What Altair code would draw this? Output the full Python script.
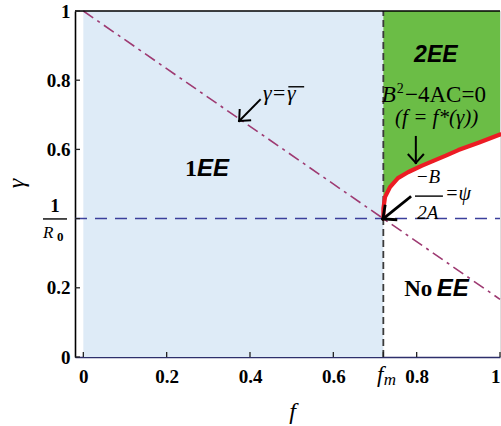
import math
import altair as alt
import pandas as pd

# ---- axis extents and plot size ----
F_MIN, F_MAX = -0.02, 1.0
G_MIN, G_MAX = 0.0, 1.0
W, H = 425, 346
PX_F = W / (F_MAX - F_MIN)   # pixels per unit of f
PX_G = H / (G_MAX - G_MIN)   # pixels per unit of gamma

# ---- key values ----
f_m = 0.72          # threshold f_m
inv_R0 = 0.4        # 1/R0

# gamma = gamma_bar line (dash-dot)
bar_f = [0.0, 1.0]
bar_g = [1.0, 0.1667]

# B^2 - 4AC = 0 boundary, f = f*(gamma)
curve_f = [0.72, 0.7203, 0.724, 0.736, 0.755, 0.779, 0.813, 0.84, 0.87, 0.90, 0.95, 1.0]
curve_g = [0.40, 0.43, 0.462, 0.491, 0.517, 0.534, 0.553, 0.567, 0.582, 0.598, 0.620, 0.643]

# axis ticks
x_ticks = [0.0, 0.2, 0.4, 0.6, 0.8, 1.0]
y_ticks = [0.0, 0.2, 0.4, 0.6, 0.8, 1.0]

# arrows: start -> tip
arrow_f0 = [0.424, 0.798, 0.784]
arrow_g0 = [0.743, 0.636, 0.462]
arrow_f1 = [0.374, 0.798, 0.719]
arrow_g1 = [0.682, 0.561, 0.399]

BLUE_FILL = "#deebf7"
GREEN = "#6bbd46"
RED = "#ec1c24"
PURPLE = "#9e3a72"
NAVY = "#3b3f9c"
SERIF = "Liberation Serif"
SANS = "Liberation Sans"

xs = alt.Scale(domain=[F_MIN, F_MAX], nice=False, zero=False)
ys = alt.Scale(domain=[G_MIN, G_MAX], nice=False, zero=False)

AX_X = alt.Axis(
    values=x_ticks, format=".1~f", ticks=False, grid=False,
    domainColor="#2d2f6b", domainWidth=1.6,
    labelFont=SERIF, labelFontWeight="bold", labelFontSize=19,
    labelColor="black", labelPadding=10, labelOverlap=False,
    title="f", titleFont=SERIF, titleFontStyle="italic",
    titleFontWeight="normal", titleFontSize=24, titleColor="black",
    titleX=217, titleY=61, titleBaseline="alphabetic")

AX_Y = alt.Axis(
    values=y_ticks, format=".1~f", ticks=False, grid=False,
    labelExpr="datum.value == 0.4 ? '' : datum.label",
    domainColor="black", domainWidth=1.6,
    labelFont=SERIF, labelFontWeight="bold", labelFontSize=19,
    labelColor="black", labelPadding=5, labelFlush=False,
    labelOverlap=False,
    title="γ", titleFont=SERIF, titleFontStyle="italic",
    titleFontWeight="normal", titleFontSize=24, titleColor="black",
    titleX=-59, titleY=172, titleAlign="center", titleBaseline="middle")


def X(field="f"):
    return alt.X(f"{field}:Q", scale=xs, axis=AX_X)


def Y(field="g"):
    return alt.Y(f"{field}:Q", scale=ys, axis=AX_Y)


# ---- 1EE region ----
blue_df = pd.DataFrame({"f": [0.0], "f2": [f_m], "g": [0.0], "g2": [1.0]})
blue = alt.Chart(blue_df).mark_rect(color=BLUE_FILL).encode(
    x=X(), x2="f2:Q", y=Y(), y2="g2:Q")

# ---- 2EE region: between f = f_m and the boundary curve, up to gamma = 1 ----
green_df = pd.DataFrame({"f": curve_f + [1.0], "g": curve_g + [1.0]})
green_df["f2"] = f_m
green = alt.Chart(green_df).mark_area(orient="horizontal", color=GREEN).encode(
    y=Y(), x=X(), x2="f2:Q")

curve_df = pd.DataFrame({"f": curve_f, "g": curve_g, "i": range(len(curve_f))})
curve = alt.Chart(curve_df).mark_line(color=RED, strokeWidth=4.2, strokeCap="round",
                                      strokeJoin="round").encode(
    x=X(), y=Y(), order="i:Q")

bar_df = pd.DataFrame({"f": bar_f, "g": bar_g})
bar_line = alt.Chart(bar_df).mark_line(color=PURPLE, strokeWidth=1.6,
                                       strokeDash=[12, 5, 3, 5]).encode(x=X(), y=Y())

h_df = pd.DataFrame({"f": [F_MIN], "f2": [F_MAX], "g": [inv_R0]})
h_line = alt.Chart(h_df).mark_rule(color=NAVY, strokeWidth=1.5, strokeDash=[12, 8]).encode(
    x=X(), x2="f2:Q", y=Y())

v_df = pd.DataFrame({"f": [f_m], "g": [0.0], "g2": [1.0]})
v_line = alt.Chart(v_df).mark_rule(color="#3a3a3a", strokeWidth=1.8, strokeDash=[7, 4]).encode(
    x=X(), y=Y(), y2="g2:Q")

top_df = pd.DataFrame({"f": [F_MIN], "f2": [F_MAX], "g": [1.0]})
top_line = alt.Chart(top_df).mark_rule(color="black", strokeWidth=1.6).encode(
    x=X(), x2="f2:Q", y=Y())

# ---- inward tick marks ----
TICK = 5
tick_rows = []
for v in x_ticks + [f_m]:
    tick_rows.append((v, 0.0, v, TICK / PX_G))
for v in y_ticks:
    tick_rows.append((F_MIN, v, F_MIN + TICK / PX_F, v))
tick_df = pd.DataFrame(tick_rows, columns=["f", "g", "f2", "g2"])
ticks = alt.Chart(tick_df).mark_rule(color="#222222", strokeWidth=1.3).encode(
    x=X(), y=Y(), x2="f2:Q", y2="g2:Q")


# ---- arrows: shaft plus open arrowhead ----
def arrow_rows(f0, g0, f1, g1, head=11.0, spread=42.0):
    dx = (f1 - f0) * PX_F
    dy = (g1 - g0) * PX_G
    n = math.hypot(dx, dy)
    bx, by = -dx / n, -dy / n
    rows = [(f0, g0, f1, g1)]
    for s in (1, -1):
        a = math.radians(spread * s)
        rx = bx * math.cos(a) - by * math.sin(a)
        ry = bx * math.sin(a) + by * math.cos(a)
        rows.append((f1, g1, f1 + rx * head / PX_F, g1 + ry * head / PX_G))
    return rows


arrow_layers = []
for k in range(3):
    rows = arrow_rows(arrow_f0[k], arrow_g0[k], arrow_f1[k], arrow_g1[k],
                      head=13.0 if k == 2 else 11.0)
    adf = pd.DataFrame(rows, columns=["f", "g", "f2", "g2"])
    arrow_layers.append(
        alt.Chart(adf).mark_rule(color="black", strokeWidth=2.8 if k == 2 else 2.0,
                                 strokeCap="square").encode(
            x=X(), y=Y(), x2="f2:Q", y2="g2:Q"))


# ---- text ----
def text(rows, **kw):
    df = pd.DataFrame(rows, columns=["f", "g", "t"])
    base = dict(color="black", baseline="alphabetic")
    base.update(kw)
    return alt.Chart(df).mark_text(**base).encode(x=X(), y=Y(), text="t:N")


texts = [
    # region labels
    text([(0.273, 0.523, "1")], font=SERIF, fontWeight="bold", fontSize=24, align="right"),
    text([(0.273, 0.523, "EE")], font=SANS, fontWeight="bold", fontStyle="italic",
         fontSize=24, align="left"),
    text([(0.846, 0.853, "2EE")], font=SANS, fontWeight="bold", fontStyle="italic",
         fontSize=23, align="center"),
    text([(0.770, 0.176, "No")], font=SERIF, fontWeight="bold", fontSize=23, align="left"),
    text([(0.848, 0.176, "EE")], font=SANS, fontWeight="bold", fontStyle="italic",
         fontSize=24, align="left"),
    # gamma = gamma bar
    text([(0.431, 0.742, "γ=")], font=SERIF, fontStyle="italic", fontSize=22, align="left"),
    text([(0.489, 0.742, "γ")], font=SERIF, fontStyle="italic", fontSize=22, align="left"),
    # discriminant boundary
    text([(0.716, 0.737, "B")], font=SERIF, fontStyle="italic", fontSize=23, align="left"),
    text([(0.752, 0.763, "2")], font=SERIF, fontSize=14, align="left"),
    text([(0.772, 0.737, "−4AC=0")], font=SERIF, fontSize=23, align="left"),
    text([(0.848, 0.672, "(f = f*(γ))")], font=SERIF, fontStyle="italic", fontSize=21,
         align="center"),
    # -B / 2A = psi
    text([(0.827, 0.503, "−B"), (0.827, 0.399, "2A")], font=SERIF, fontStyle="italic",
         fontSize=19, align="center"),
    text([(0.868, 0.454, "=ψ")], font=SERIF, fontStyle="italic", fontSize=20, align="left"),
    # axis specials: f_m and 1/R0
    text([(0.72, -0.0723, "f")], font=SERIF, fontStyle="italic", fontSize=23, align="right"),
    text([(0.721, -0.081, "m")], font=SERIF, fontStyle="italic", fontSize=17, align="left"),
    text([(-0.068, 0.419, "1")], font=SERIF, fontWeight="bold", fontSize=19, align="center"),
    text([(-0.0968, 0.344, "R")], font=SERIF, fontStyle="italic", fontSize=17, align="left"),
    text([(-0.0632, 0.335, "0")], font=SERIF, fontWeight="bold", fontSize=13, align="left"),
]

# fraction bars (-B/2A and 1/R0) and the overline of gamma bar
frac_df = pd.DataFrame({"f": [0.796, -0.0968, 0.492], "f2": [0.863, -0.0392, 0.530],
                        "g": [0.465, 0.399, 0.781]})
frac_bars = alt.Chart(frac_df).mark_rule(color="black", strokeWidth=1.4).encode(
    x=X(), x2="f2:Q", y=Y())

chart = alt.layer(
    blue, green, h_line, bar_line, v_line, curve, top_line, ticks,
    *arrow_layers, frac_bars, *texts,
).properties(
    width=W, height=H, autosize="none",
    padding={"left": 75, "top": 11, "right": 1, "bottom": 69},
).configure_view(stroke=None).configure(background="white")

chart.save("out.html", embed_options={"renderer": "svg", "actions": False})
